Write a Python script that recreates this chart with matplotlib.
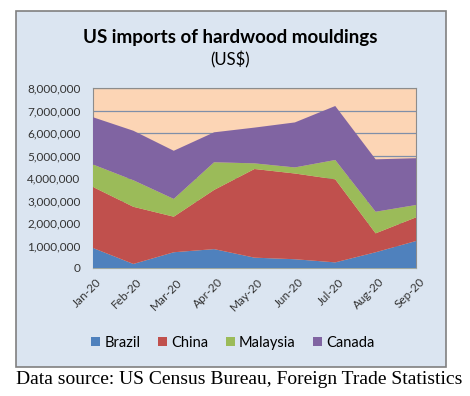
import numpy as np
import matplotlib.pyplot as plt
from matplotlib.patches import Rectangle
from matplotlib.transforms import ScaledTranslation

months = ['Jan-20', 'Feb-20', 'Mar-20', 'Apr-20', 'May-20', 'Jun-20', 'Jul-20', 'Aug-20', 'Sep-20']
brazil   = [890000, 180000, 700000, 840000, 460000, 390000, 250000, 700000, 1200000]
china    = [2710000, 2540000, 1580000, 2630000, 3940000, 3810000, 3690000, 840000, 1050000]
malaysia = [1000000, 1180000, 790000, 1230000, 250000, 270000, 860000, 960000, 550000]
canada   = [2100000, 2200000, 2140000, 1330000, 1590000, 2000000, 2400000, 2330000, 2080000]
series_names = ['Brazil', 'China', 'Malaysia', 'Canada']
colors = ['#4F81BD', '#C0504D', '#9BBB59', '#8064A2']
yticks = [0, 1000000, 2000000, 3000000, 4000000, 5000000, 6000000, 7000000, 8000000]

plt.rcParams['font.family'] = ['Lato', 'DejaVu Sans']

fig = plt.figure(figsize=(4.7, 3.96), dpi=100)
fig.patch.set_facecolor('white')

# outer chart box
fig.patches.append(Rectangle((16/470, 1-367/396), 430/470, 356/396, transform=fig.transFigure,
                             facecolor='#DBE5F1', edgecolor='#808080', linewidth=1.2, zorder=0))

ax = fig.add_axes([93/470, 1-268/396, 323/470, 180/396])
ax.set_zorder(5)
ax.set_facecolor('#FCD5B5')
x = np.arange(len(months))
ax.stackplot(x, brazil, china, malaysia, canada, colors=colors, labels=series_names,
             linewidth=0, zorder=3)
ax.set_xlim(0, len(months)-1)
ax.set_ylim(0, 8000000)
ax.set_yticks(yticks)
ax.set_yticklabels(['{:,}'.format(v) for v in yticks], fontsize=8.5, color='#333333')
ax.set_xticks(x)
ax.set_xticklabels(months, rotation=45, ha='right', rotation_mode='anchor', fontsize=8.5, color='#333333')
ax.tick_params(axis='y', length=0, pad=9)
ax.tick_params(axis='x', length=0, pad=6)
shift = ScaledTranslation(3/100, 0, fig.dpi_scale_trans)
for lbl in ax.get_xticklabels():
    lbl.set_transform(lbl.get_transform() + shift)
for v in yticks[1:]:
    ax.axhline(v, color='#7F8FA9', linewidth=0.9, zorder=1)
for s in ax.spines.values():
    s.set_color('#8C8C8C')
    s.set_linewidth(0.8)
ax.spines['bottom'].set_color('#A0A8A0')

fig.text(230/470, 1-38/396, 'US imports of hardwood mouldings', ha='center', va='center',
         fontsize=13.5, fontweight='bold', color='black', zorder=6)
fig.text(230/470, 1-60/396, '(US$)', ha='center', va='center', fontsize=12, color='black', zorder=6)

leg = fig.legend(loc='center', bbox_to_anchor=(233/470, 1-343/396), ncol=4, frameon=False,
                 fontsize=10.5, handlelength=0.6, handleheight=0.6, handletextpad=0.3,
                 columnspacing=1.2)
leg.set_zorder(6)

fig.text(16/470, 1-379/396, 'Data source: US Census Bureau, Foreign Trade Statistics', ha='left',
         va='center', fontsize=14, family='Liberation Serif', color='black')

plt.savefig('out.png', dpi=100)
